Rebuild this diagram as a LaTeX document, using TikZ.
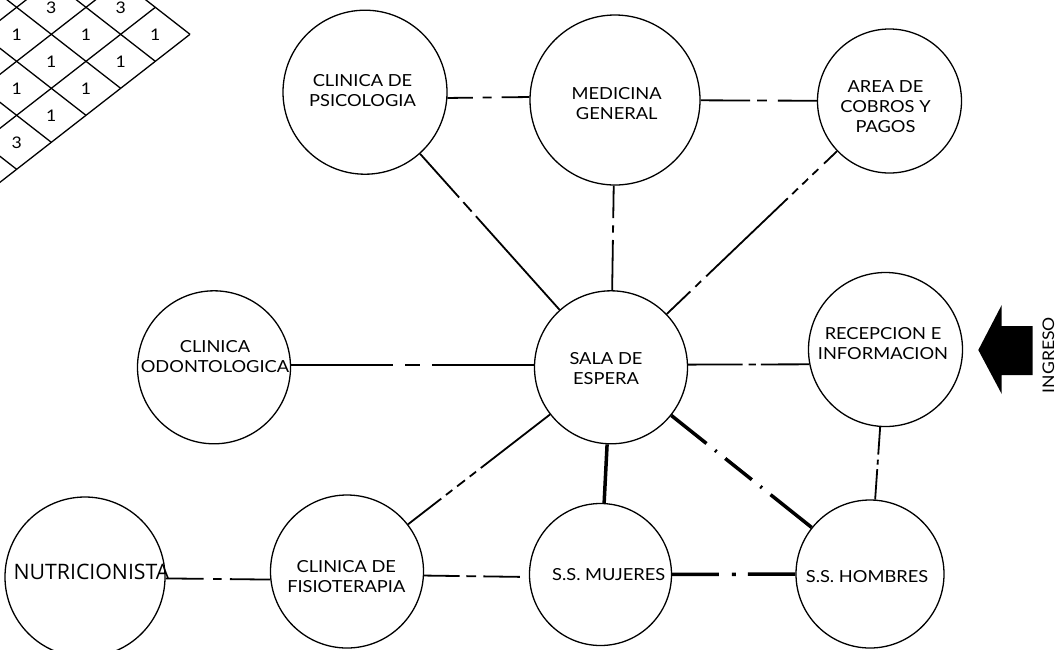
\documentclass[tikz,border=0pt]{standalone}
\usepackage{fontspec}
\setmainfont{Lato}
\newfontfamily\lblfont{Lato}[FakeStretch=1.1]
\newfontfamily\nutfont{Open Sans}
\usetikzlibrary{calc}
\newcommand\dlink[7][]{%
  \path (#2) -- (#3) coordinate[pos=#4] (q1) coordinate[pos=#5] (q2)
        coordinate[pos=#6] (q3) coordinate[pos=#7] (q4);
  \draw[thinln,#1] (#2) -- (q1) (q2) -- (q3) (q4) -- (#3);}
\begin{document}
\begin{tikzpicture}[x=1pt,y=-1pt,
  room/.style={circle,draw,line width=1.3pt,inner sep=0pt},
  lbl/.style={font=\lblfont\fontsize{16.6}{20}\selectfont,align=center,inner sep=0pt},
  thinln/.style={line width=1.8pt},
  heavyln/.style={line width=3.5pt},
  gridln/.style={line width=1.3pt},
  num/.style={font=\lblfont\fontsize{16}{16}\selectfont,inner sep=0pt}]
\useasboundingbox (0,0) rectangle (1057,649);
% ---- grid (top left)
\begin{scope}
  \clip (0,0) rectangle (1057,649);
  \coordinate (R) at (190,34.3);
  \foreach \k in {0,...,7} {
    \draw[gridln] ($(R)+\k*(-34.67,-27)$) -- ++(-277.36,216);
    \draw[gridln] ($(R)+\k*(-34.67,27)$) -- ++(-277.36,-216);
  }
  \foreach \a/\b/\n [count=\i] in {0/0/1,1/0/3,0/1/1,1/1/1,2/1/3,0/2/1,1/2/1,2/2/1,0/3/1,1/3/1,0/4/3} {
    \node[num] (g\i) at ({190-34.67*(\a+\b+1)},{34.3-27*(\a-\b)}) {\n};
  }
\end{scope}
% ---- rooms
\node[room,minimum size=164pt] (psi) at (365,92.2) {};
\node[room,minimum size=170pt] (med) at (615,100) {};
\node[room,minimum size=144pt] (area) at (889.5,101) {};
\node[room,minimum size=153pt] (odo) at (214,367.3) {};
\node[room,minimum size=153pt] (sala) at (611,367.3) {};
\node[room,minimum size=154pt] (rec) at (885.5,349.5) {};
\node[room,minimum size=160pt] (nut) at (85,577) {};
\node[room,minimum size=153pt] (fis) at (347,571.5) {};
\node[room,minimum size=142pt] (muj) at (600.5,574.5) {};
\node[room,minimum size=148pt] (hom) at (870,574) {};
% ---- labels
\node[lbl] (psit) at (362.5,90.5) {CLINICA DE\\PSICOLOGIA};
\node[lbl] (medt) at (616.7,103.8) {MEDICINA\\GENERAL};
\node[lbl] (areat) at (885.5,106.3) {AREA DE\\COBROS Y\\PAGOS};
\node[lbl] (odot) at (215,356.2) {CLINICA\\ODONTOLOGICA};
\node[lbl] (salat) at (606,368.3) {SALA DE\\ESPERA};
\node[lbl] (rect) at (883,343.8) {RECEPCION E\\INFORMACION};
\node[lbl] (fist) at (346.3,576.3) {CLINICA DE\\FISIOTERAPIA};
\node[lbl,anchor=base] (mujt) at (608.7,580) {S.S. MUJERES};
\node[lbl,anchor=base] (homt) at (867,582) {S.S. HOMBRES};
\node[font=\nutfont\fontsize{21.3}{24}\selectfont,inner sep=0pt,anchor=base] (nutt) at (91.5,579) {NUTRICIONISTA};
% ---- entrance arrow
\fill (978.3,350) -- (1001.7,305) -- (1001.7,326) -- (1032.7,326) -- (1032.7,375)
      -- (1001.7,375) -- (1001.7,394) -- cycle;
\node[lbl,font=\lblfont\fontsize{16}{16}\selectfont,rotate=90] (ingt) at (1048.3,355) {INGRESO};
% ---- connectors
\dlink{psi.-4}{med.178}{0.31}{0.43}{0.54}{0.66}
\dlink[shorten <=5pt]{med}{area}{0.426}{0.485}{0.57}{0.621}
\dlink{psi}{sala}{0.28}{0.31}{0.37}{0.40}
\dlink{med}{sala}{0.31}{0.38}{0.45}{0.52}
\draw[thinln,dash pattern=on 18pt off 8pt on 8pt off 6pt on 8pt off 6pt on 8pt off 6pt on 113pt off 7pt on 8pt off 7pt on 100pt] (area) -- (sala);
\dlink{odo.2}{sala.178}{0.42}{0.47}{0.53}{0.58}
\dlink{sala.2}{rec.-169}{0.45}{0.5}{0.56}{0.6}
\dlink{rec}{hom}{0.38}{0.45}{0.52}{0.58}
\draw[thinln,dash pattern=on 42pt off 6pt on 8pt off 6pt on 10pt off 6pt on 8pt off 6pt on 200pt] (fis) -- (sala);
\dlink{nut.-1.6}{fis.-174.15}{0.362}{0.454}{0.536}{0.615}
\dlink[shorten >=9pt]{fis.-3.9}{muj.-178.2}{0.34}{0.403}{0.497}{0.566}
\draw[heavyln] (sala) -- (muj);
\draw[heavyln,dash pattern=on 45pt off 11pt on 2pt off 11pt on 34pt off 11pt on 2pt off 11pt on 300pt] (sala) -- (hom);
\draw[heavyln,dash pattern=on 46.6pt off 13pt on 4pt off 12pt on 300pt] (muj) -- (hom);
\end{tikzpicture}
\end{document}
